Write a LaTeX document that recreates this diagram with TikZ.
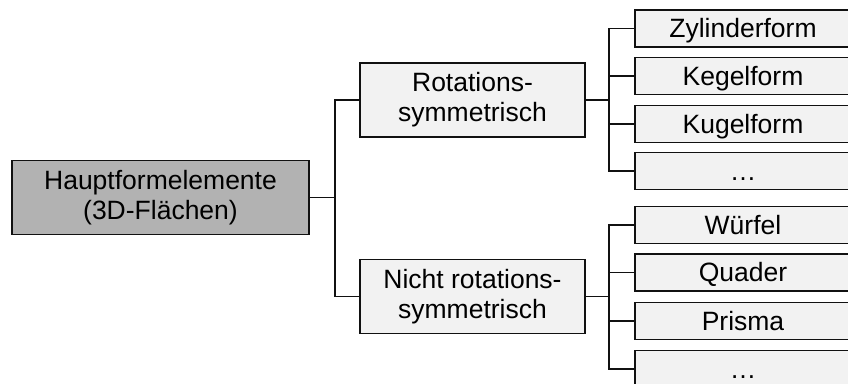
\documentclass[tikz,border=0pt]{standalone}
\usepackage{fontspec}
\setmainfont{Liberation Sans}
\definecolor{rootfill}{HTML}{B2B2B2}
\definecolor{boxfill}{HTML}{F2F2F2}
\definecolor{edge}{HTML}{111111}
\begin{document}
\begin{tikzpicture}[x=1pt,y=-1pt,
  every node/.style={font=\fontsize{26.5}{30}\selectfont, text=black, inner sep=0pt, align=center},
  box/.style={draw=edge, line width=1.7pt, rectangle, fill=boxfill},
  rootbox/.style={box, fill=rootfill, minimum width=297pt, minimum height=74pt},
  midbox/.style={box, minimum width=225pt, minimum height=74pt},
  leafbox/.style={box, minimum width=216pt, minimum height=37pt, text height=18pt, text depth=0pt},
  link/.style={draw=edge, line width=1.7pt}]
  \useasboundingbox (0,0) rectangle (848,383);
  \clip (0,0) rectangle (848,383);

  % main levels
  \node[rootbox] (root) at (160.5,197.5) {Hauptformelemente\\(3D-Flächen)};
  \node[midbox] (rot) at (472.5,100) {Rotations-\\symmetrisch};
  \node[midbox] (nrot) at (472.5,296.5) {Nicht rotations-\\symmetrisch};

  % leaves of the rotationally symmetric branch
  \node[leafbox] (zyl) at (743,28.5) {Zylinderform};
  \node[leafbox] (keg) at (743,76) {Kegelform};
  \node[leafbox] (kug) at (743,124) {Kugelform};
  \node[leafbox] (rmore) at (743,171) {…};

  % leaves of the non-symmetric branch
  \node[leafbox] (wue) at (743,225) {Würfel};
  \node[leafbox] (qua) at (743,272.5) {Quader};
  \node[leafbox] (pri) at (743,321) {Prisma};
  \node[leafbox] (nmore) at (743,369) {…};

  % junction points of the tree lines
  \coordinate (j1) at (335,197.5);
  \coordinate (j2) at (609,100);
  \coordinate (j3) at (609,296.5);

  \draw[link] (root.east) -- (j1);
  \draw[link] (j1) |- (rot.west);
  \draw[link] (j1) |- (nrot.west);

  \draw[link] (rot.east) -- (j2);
  \foreach \n in {zyl,keg,kug,rmore} \draw[link] (j2) |- (\n.west);

  \draw[link] (nrot.east) -- (j3);
  \foreach \n in {wue,qua,pri,nmore} \draw[link] (j3) |- (\n.west);
\end{tikzpicture}
\end{document}
